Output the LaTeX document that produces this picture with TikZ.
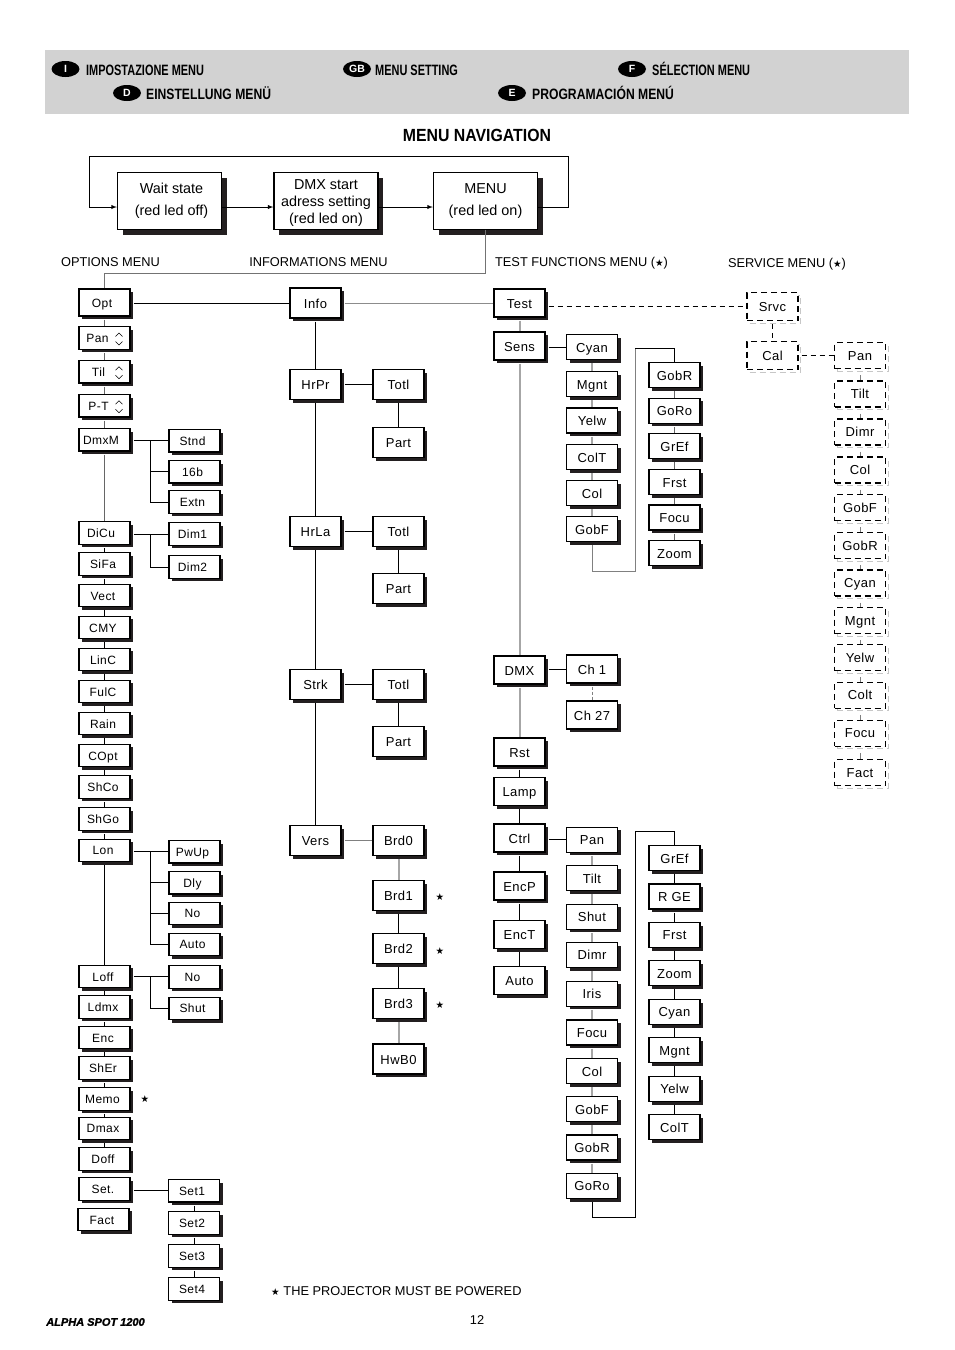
\documentclass[tikz,border=0pt]{standalone}
\usepackage{fontspec}
\setmainfont[BoldItalicFeatures={FakeBold=1.5}]{Liberation Sans}
\newfontfamily\boxfont[LetterSpace=3.5]{Liberation Sans}
\newfontfamily\starfont{DejaVu Sans}
\usetikzlibrary{shapes.geometric,shadows}
\definecolor{bandgray}{HTML}{D2D2D2}
\definecolor{shadowblack}{HTML}{231F20}
\newcommand{\thin}[2]{\scalebox{#1}[1]{#2}}
\newcommand{\pstar}{{\starfont\fontsize{9.5}{11}\selectfont ★}}
\tikzset{
	bigbox/.style={draw,fill=white,line width=1.3pt,minimum width=104pt,minimum height=57pt,inner sep=0pt,align=center,
		font=\fontsize{14.4}{22}\selectfont,general shadow={shadow xshift=5pt,shadow yshift=-5pt,fill=shadowblack}},
	menubox/.style={draw,fill=white,line width=1.1pt,minimum width=51pt,minimum height=28pt,inner sep=0pt,text height=10pt,text depth=0pt,
		font=\boxfont\fontsize{13}{15}\selectfont,general shadow={shadow xshift=3.2pt,shadow yshift=-3.2pt,fill=shadowblack}},
	optbox/.style={menubox,minimum height=22.5pt,text height=9pt,font=\boxfont\fontsize{12}{14}\selectfont,execute at end node={\kern3pt}},
	sidebox/.style={optbox,execute at end node={\kern1pt}},
	srvbox/.style={draw,fill=white,dash pattern=on 6pt off 4pt,line width=1.1pt,minimum width=51pt,minimum height=26pt,inner sep=0pt,text height=9pt,text depth=0pt,
		font=\boxfont\fontsize{13}{15}\selectfont,general shadow={shadow xshift=2.6pt,shadow yshift=-2.6pt,fill=none,draw=black!22,line width=1pt,dash pattern=on 6pt off 4pt}},
	pill/.style={ellipse,fill=black,text=white,minimum width=28pt,minimum height=16pt,inner sep=0pt,font=\bfseries\fontsize{10.5}{12}\selectfont},
	bandtext/.style={anchor=base west,inner sep=0pt,font=\bfseries\fontsize{15}{17}\selectfont},
	plain/.style={inner sep=0pt,font=\fontsize{12.8}{15}\selectfont},
	starmark/.style={inner sep=0pt},
	link/.style={line width=0.9pt,shorten <=3pt},
	greylink/.style={line width=2pt,draw=black!35,shorten <=3pt},
	midlink/.style={line width=0.9pt,draw=black!60,shorten <=3pt},
	dashlink/.style={line width=0.9pt,dash pattern=on 5pt off 4pt,shorten <=3pt},
}
\begin{document}
\begin{tikzpicture}[x=1pt,y=-1pt]
	\useasboundingbox (0,0) rectangle (954,1350);
	%heading band
	\fill[bandgray] (45,50) rectangle (909,114);
	\node (pilli) at (65.5,69) [pill]{I};
	\node (pilld) at (127,93) [pill]{D};
	\node (pillgb) at (357,69) [pill]{GB};
	\node (pillf) at (632,69) [pill]{F};
	\node (pille) at (512,93) [pill]{E};
	\node (texti) at (86,75) [bandtext]{\thin{0.73}{IMPOSTAZIONE MENU}};
	\node (textd) at (146,99) [bandtext]{\thin{0.81}{EINSTELLUNG MENÜ}};
	\node (textgb) at (375,75) [bandtext]{\thin{0.73}{MENU SETTING}};
	\node (textf) at (652,75) [bandtext]{\thin{0.73}{SÉLECTION MENU}};
	\node (texte) at (532,99) [bandtext]{\thin{0.81}{PROGRAMACIÓN MENÚ}};
	\node (title) at (477,135) [inner sep=0pt,font=\bfseries\fontsize{17.6}{20}\selectfont]{\thin{0.9}{MENU NAVIGATION}};

	%top loop
	\node (wait) at (169.5,201) [bigbox]{\hspace*{4pt}Wait state\\\hspace*{4pt}(red led off)};
	\node (dmxstart) at (326,201) [bigbox,font=\fontsize{14.4}{17}\selectfont]{\rule{0pt}{14pt}DMX start\\adress setting\\(red led on)};
	\node (menu) at (485.5,201) [bigbox]{MENU\\(red led on)};
	\coordinate (looptop) at (568,156);
	\coordinate (loopleft) at (89,207);
	\draw[-latex,line width=0.9pt] (wait.east |- loopleft) -- (dmxstart.west |- loopleft);
	\draw[-latex,line width=0.9pt] (dmxstart.east |- loopleft) -- (menu.west |- loopleft);
	\draw[-latex,line width=0.9pt] (menu.east |- loopleft) -- (looptop |- loopleft) -- (looptop) -- (loopleft |- looptop) -- (loopleft) -- (wait.west |- loopleft);

	\node (lblopt) at (110.5,262) [plain]{OPTIONS MENU};
	\node (lblinfo) at (318.5,262) [plain]{INFORMATIONS MENU};
	\node (lbltest) at (581.5,263.5) [plain]{TEST FUNCTIONS MENU (\pstar)};
	\node (lblsrv) at (787,264.5) [plain]{SERVICE MENU (\pstar)};

	%options column
	\node (opt) at (104.5,302.5) [optbox,minimum height=27pt]{Opt\kern2pt};
	\foreach \n/\t/\y in {pan/Pan\kern11pt/338,til/Til\kern9pt/371.7,pt/P-T\kern9pt/405.7,dmxm/DmxM\kern4pt/439.7,
		dicu/DiCu\kern4pt/533,sifa/SiFa/564,vect/Vect/595.5,cmy/CMY/627.5,linc/LinC/659.5,fulc/FulC/691.5,rain/Rain/723.5,
		copt/COpt/755.5,shco/ShCo/787,shgo/ShGo/819,lon/Lon/850.3,loff/Loff/976.5,ldmx/Ldmx/1007,
		enc/Enc/1037.5,sher/ShEr/1068,memo/Memo\kern1pt/1099,dmax/Dmax/1128.3,doff/Doff/1159,setm/Set./1189}{
		\node (\n) at (104.5,\y) [optbox]{\t};
	}
	\node (fact) at (103.5,1219.5) [optbox]{Fact};
	\foreach \n in {pan,til,pt}{
		\draw[line width=0.6pt] ([shift={(11,-1.5)}]\n.center) -- ([shift={(14.5,-5)}]\n.center) -- ([shift={(18,-1.5)}]\n.center);
		\draw[line width=0.6pt] ([shift={(11,3.5)}]\n.center) -- ([shift={(14.5,7)}]\n.center) -- ([shift={(18,3.5)}]\n.center);
	}
	\foreach \a/\b in {opt/pan,pan/til,til/pt,pt/dmxm,dmxm/dicu}{
		\draw[midlink] (\a.south) -- (\b.north);
	}
	\foreach \a/\b in {dicu/sifa,sifa/vect,vect/cmy,cmy/linc,linc/fulc,fulc/rain,rain/copt,copt/shco,shco/shgo,shgo/lon,lon/loff,
		loff/ldmx,ldmx/enc,enc/sher,sher/memo,memo/dmax,dmax/doff}{
		\draw[link] (\a.south) -- (\b.north);
	}
	\node (memostar) at (145,1099.5) [starmark]{\pstar};

	%options sub menus
	\foreach \n/\t/\y in {stnd/Stnd/440.7,b16/16b/471.7,extn/Extn/502,dimone/Dim1/534,dimtwo/Dim2/567,pwup/PwUp/851.7,dly/Dly/882.7,
		nolon/No/913.3,autolon/Auto/944.3,noloff/No/976.8,shutloff/Shut/1008.3}{
		\node (\n) at (194.5,\y) [sidebox]{\t};
	}
	\foreach \n/\t/\y in {setone/Set1/1190.7,settwo/Set2/1222.8,setthree/Set3/1256,setfour/Set4/1289}{
		\node (\n) at (194,\y) [sidebox]{\t};
	}
	\coordinate (branch) at (150.7,0);
	\foreach \a/\b in {dmxm/stnd,dicu/dimone,lon/pwup,loff/noloff,setm/setone}{
		\draw[link] (\a.east |- \b.west) -- (\b.west);
	}
	\foreach \a/\b in {stnd/b16,stnd/extn,dimone/dimtwo,pwup/dly,pwup/nolon,pwup/autolon,noloff/shutloff}{
		\draw[line width=0.9pt] (\a.west -| branch) |- (\b.west);
	}
	\foreach \a/\b in {setone/settwo,settwo/setthree,setthree/setfour}{
		\draw[link] (\a.south) -- (\b.north);
	}

	%informations column
	\node (info) at (315.5,303) [menubox,minimum height=30pt]{Info};
	\foreach \n/\t/\y in {hrpr/HrPr/384.7,hrla/HrLa/531.7,strk/Strk/684.3,vers/Vers/840.3}{
		\node (\n) at (315.5,\y) [menubox,minimum height=30pt]{\t};
	}
	\foreach \n/\t/\y in {totla/Totl/384.7,parta/Part/442.5,totlb/Totl/531.7,partb/Part/588.7,totlc/Totl/684.3,partc/Part/741.7,
		brdzero/Brd0/840.3,brdone/Brd1/895.7,brdtwo/Brd2/948.8,brdthree/Brd3/1003.7,hwb/HwB0/1059}{
		\node (\n) at (398.5,\y) [menubox,minimum height=30pt]{\t};
	}
	\foreach \a/\b in {info/hrpr,hrpr/hrla,hrla/strk,strk/vers,totla/parta,totlb/partb,totlc/partc,brdone/brdtwo,brdtwo/brdthree}{
		\draw[link] (\a.south) -- (\b.north);
	}
	\foreach \a/\b in {brdzero/brdone,brdthree/hwb}{
		\draw[greylink] (\a.south) -- (\b.north);
	}
	\foreach \a/\b in {hrpr/totla,hrla/totlb,strk/totlc}{
		\draw[link] (\a.east) -- (\b.west);
	}
	\draw[line width=1pt,draw=black!50,shorten <=3pt] (vers.east) -- (brdzero.west);
	\draw[link] (opt.east |- info.west) -- (info.west);
	\node (starone) at (440,896.7) [starmark]{\pstar};
	\node (startwo) at (440,951) [starmark]{\pstar};
	\node (starthree) at (440,1005) [starmark]{\pstar};

	%test column
	\foreach \n/\t/\y in {test/Test/303,sens/Sens/346,dmx/DMX/670,rst/Rst/752,lamp/Lamp/791.7,ctrl/Ctrl/838,encp/EncP/886,enct/EncT/934.5,autot/Auto/980.5}{
		\node (\n) at (519.5,\y) [menubox]{\t};
	}
	\foreach \a/\b in {test/sens,sens/dmx,dmx/rst}{
		\draw[greylink] (\a.south) -- (\b.north);
	}
	\foreach \a/\b in {rst/lamp,lamp/ctrl,ctrl/encp,encp/enct,enct/autot}{
		\draw[link] (\a.south) -- (\b.north);
	}
	\draw[line width=0.9pt,draw=black!45,shorten <=3pt] (info.east) -- (test.west);
	\draw[line width=0.9pt,draw=black!55] (485.5,229.5) -- (485.5,273.3) -- (104.5,273.3) -- (opt.north);

	%test sub menus
	\foreach \n/\t/\y in {cyana/Cyan/347.3,mgnta/Mgnt/384,yelwa/Yelw/420.5,colta/ColT/457,cola/Col/493.3,gobfa/GobF/529.3,
		pane/Pan/839.7,tilte/Tilt/878,shute/Shut/916.7,dimre/Dimr/954.8,irise/Iris/993.7,
		focue/Focu/1032.5,cole/Col/1071,gobfe/GobF/1109,gobre/GobR/1147.5,goroe/GoRo/1185.8}{
		\node (\n) at (592,\y) [menubox,minimum height=25pt]{\t};
	}
	\node (chone) at (592,669) [menubox]{Ch 1};
	\node (chlast) at (592,715) [menubox]{Ch 27};
	\foreach \n/\t/\y in {gobra/GobR/375,goroa/GoRo/410.7,grefa/GrEf/446.3,frsta/Frst/482,focua/Focu/517.5,zooma/Zoom/553.3,
		grefe/GrEf/858,rgee/R GE/896.5,frste/Frst/934.8,zoome/Zoom/973,cyane/Cyan/1011.8,mgnte/Mgnt/1050,yelwe/Yelw/1088.8,colte/ColT/1127.3}{
		\node (\n) at (674.5,\y) [menubox,minimum height=25pt]{\t};
	}
	\foreach \a/\b in {cyana/mgnta,mgnta/yelwa,yelwa/colta,colta/cola,cola/gobfa,pane/tilte,tilte/shute,shute/dimre,dimre/irise,
		irise/focue,focue/cole,cole/gobfe,gobfe/gobre,gobre/goroe}{
		\draw[greylink,line width=1.5pt] (\a.south) -- (\b.north);
	}
	\foreach \a/\b in {grefe/rgee,rgee/frste,frste/zoome,zoome/cyane,cyane/mgnte,mgnte/yelwe,yelwe/colte}{
		\draw[link] (\a.south) -- (\b.north);
	}
	\foreach \a/\b in {gobra/goroa,goroa/grefa,grefa/frsta,frsta/focua,focua/zooma}{
		\draw[midlink] (\a.south) -- (\b.north);
	}
	\foreach \a/\b in {sens/cyana,dmx/chone,ctrl/pane}{
		\draw[link] (\a.east |- \b.west) -- (\b.west);
	}
	\draw[line width=0.9pt,draw=black!50,dash pattern=on 3pt off 2pt,shorten <=3pt] (chone.south) -- (chlast.north);
	%U turns between the two columns
	\coordinate (turnup) at (635.3,348.3);
	\coordinate (turnlow) at (635.3,831);
	\draw[line width=1pt,draw=black!50,shorten <=3pt] (gobfa.south) -- (gobfa |- 0,571.3) -- (turnup |- 0,571.3) -- (turnup);
	\draw[line width=0.9pt] (turnup) -- (gobra.north |- turnup) -- (gobra.north);
	\draw[link] (goroe.south) -- (goroe |- 0,1217.3) -- (turnlow |- 0,1217.3) -- (turnlow) -- (grefe.north |- turnlow) -- (grefe.north);

	%service menu
	\node (srvc) at (772.5,306.7) [srvbox,minimum height=28pt]{Srvc};
	\node (cal) at (772.5,355.5) [srvbox,minimum height=28pt]{Cal};
	\foreach \n/\t/\y in {panx/Pan/355.5,tiltx/Tilt/394,dimrx/Dimr/432,colx/Col/470,gobfx/GobF/507.5,gobrx/GobR/545.5,cyanx/Cyan/583,
		mgntx/Mgnt/620.5,yelwx/Yelw/657.7,coltx/Colt/695.3,focux/Focu/733.3,factx/Fact/772.5}{
		\node (\n) at (860,\y) [srvbox]{\t};
	}
	\foreach \a/\b in {panx/tiltx,tiltx/dimrx,dimrx/colx,colx/gobfx,gobfx/gobrx,gobrx/cyanx,cyanx/mgntx,mgntx/yelwx,yelwx/coltx,coltx/focux,focux/factx}{
		\draw[line width=0.8pt,draw=black!50,shorten <=6pt] (\a.south) -- (\b.north);
	}
	\draw[dashlink] (test.east |- srvc.west) -- (srvc.west);
	\draw[dashlink] (srvc.south) -- (cal.north);
	\draw[dashlink] (cal.east) -- (panx.west);

	%footer
	\node (footstar) at (275.3,1292) [starmark]{\pstar};
	\node (footnote) at (402.5,1291) [plain]{THE PROJECTOR MUST BE POWERED};
	\node (pagenum) at (477,1320.5) [plain]{12};
	\node (model) at (95.5,1322) [inner sep=0pt,font=\bfseries\itshape\fontsize{11}{13}\selectfont]{ALPHA SPOT 1200};
\end{tikzpicture}
\end{document}
